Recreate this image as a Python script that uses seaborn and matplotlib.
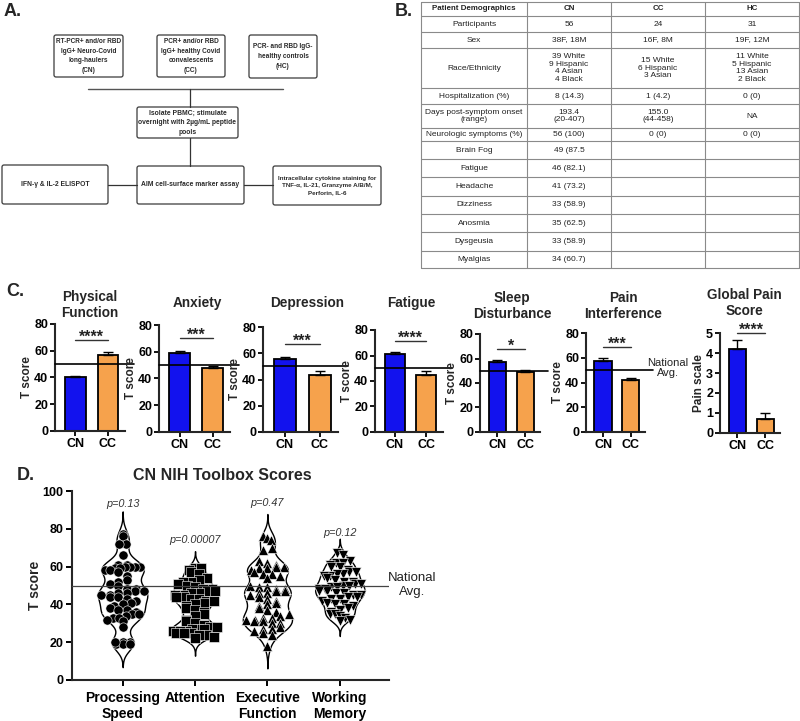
import warnings
warnings.filterwarnings("ignore")
import numpy as np
import pandas as pd
import matplotlib
matplotlib.use("Agg")
import matplotlib.pyplot as plt
from matplotlib.patches import FancyBboxPatch
import seaborn as sns

# ---------------- data ----------------
# Panel A flowchart texts
flow_top = ["RT-PCR+ and/or RBD\nIgG+ Neuro-Covid\nlong-haulers\n(CN)",
            "PCR+ and/or RBD\nIgG+ healthy Covid\nconvalescents\n(CC)",
            "PCR- and RBD IgG-\nhealthy controls\n(HC)"]
flow_mid = "Isolate PBMC; stimulate\novernight with 2µg/mL peptide\npools"
flow_bottom = ["IFN-γ & IL-2 ELISPOT",
               "AIM cell-surface marker assay",
               "Intracellular cytokine staining for\nTNF-α, IL-21, Granzyme A/B/M,\nPerforin, IL-6"]

# Panel B table
table_header = ["Patient Demographics", "CN", "CC", "HC"]
table_rows = [
    ["Participants", "56", "24", "31"],
    ["Sex", "38F, 18M", "16F, 8M", "19F, 12M"],
    ["Race/Ethnicity", "39 White\n9 Hispanic\n4 Asian\n4 Black",
     "15 White\n6 Hispanic\n3 Asian", "11 White\n5 Hispanic\n13 Asian\n2 Black"],
    ["Hospitalization (%)", "8 (14.3)", "1 (4.2)", "0 (0)"],
    ["Days post-symptom onset\n(range)", "193.4\n(20-407)", "155.0\n(44-458)", "NA"],
    ["Neurologic symptoms (%)", "56 (100)", "0 (0)", "0 (0)"],
    ["Brain Fog", "49 (87.5", "", ""],
    ["Fatigue", "46 (82.1)", "", ""],
    ["Headache", "41 (73.2)", "", ""],
    ["Dizziness", "33 (58.9)", "", ""],
    ["Anosmia", "35 (62.5)", "", ""],
    ["Dysgeusia", "33 (58.9)", "", ""],
    ["Myalgias", "34 (60.7)", "", ""],
]

# Panel C PROMIS bars
promis_titles = ["Physical\nFunction", "Anxiety", "Depression", "Fatigue",
                 "Sleep\nDisturbance", "Pain\nInterference", "Global Pain\nScore"]
groups = ["CN", "CC"]
cn_mean = [40.0, 59.3, 55.3, 61.2, 57.4, 57.5, 4.2]
cn_sem = [1.4, 1.5, 1.6, 1.8, 1.3, 2.1, 0.46]
cc_mean = [56.5, 47.5, 43.7, 45.0, 48.6, 42.0, 0.7]
cc_sem = [2.3, 2.0, 2.5, 3.2, 2.4, 1.4, 0.3]
stars = ["****", "***", "***", "****", "*", "***", "****"]

# Panel D NIH toolbox scores
tests = ["Processing\nSpeed", "Attention", "Executive\nFunction", "Working\nMemory"]
processing = [77, 76, 72, 72, 66,
              61, 61, 60, 60, 60, 60, 59, 59, 58, 58, 57,
              55, 53, 52, 51, 50,
              48, 48, 47, 47, 46, 46, 45, 45, 44, 44, 43,
              42, 41, 40, 39, 38, 37, 37, 36, 35, 35, 34, 33, 33, 32, 31,
              28, 20, 20, 19, 19, 20, 19]
attention = [59, 59, 58, 57, 56,
             54, 53, 52, 52, 51, 50,
             49, 48, 48, 47, 47, 46, 46, 45, 45, 44, 44, 43, 43, 42, 42,
             41, 40, 39, 38, 37, 36, 35, 34,
             32, 31, 30, 29,
             28, 28, 27, 27, 27, 26, 26, 26, 25, 25, 25, 24, 24, 23, 22]
executive = [76, 75, 74, 70, 69,
             63, 62, 61, 60, 60, 59, 59, 58,
             57, 56, 56, 55, 54,
             50, 49, 49, 48, 48, 47, 47, 46, 46, 45,
             44, 43, 42, 41, 40,
             39, 38, 37, 36,
             35, 34, 33, 33, 32, 32, 31, 31, 30, 30,
             28, 27, 27, 26, 25, 24, 18]
working = [67, 66, 63, 62, 62, 61, 60, 60,
           58, 57, 57, 56, 56, 55, 55, 54,
           53, 52, 52, 51, 51, 50, 50, 49, 49, 48, 48, 47,
           47, 46, 46, 45, 45, 44, 44, 43, 43, 42,
           41, 40, 40, 39,
           38, 37, 36, 35, 35, 34, 33, 32, 31]
p_values = ["p=0.13", "p=0.00007", "p=0.47", "p=0.12"]
national_avg = 50

# ---------------- style ----------------
sns.set_theme(style="ticks")
plt.rcParams['font.family'] = ['Liberation Sans', 'DejaVu Sans']
plt.rcParams['axes.linewidth'] = 1.5

W, H = 800, 721
fig = plt.figure(figsize=(8, 7.21), dpi=100)
fig.patch.set_facecolor("white")


def fx(px):
    return px / W


def fy(py):
    return 1 - py / H


def axes_px(l, r, t, b):
    return fig.add_axes([fx(l), fy(b), (r - l) / W, (b - t) / H])


# ---------------- Panel A ----------------
axA = axes_px(0, 400, 0, 275)
axA.set_xlim(0, 400)
axA.set_ylim(275, 0)
axA.axis("off")


def box(ax, x0, x1, y0, y1, txt, fs=4.8):
    ax.add_patch(FancyBboxPatch((x0, y0), x1 - x0, y1 - y0,
                                boxstyle="round,pad=0,rounding_size=2",
                                fc="white", ec="#3a3a3a", lw=0.9))
    ax.text((x0 + x1) / 2, (y0 + y1) / 2, txt, ha="center", va="center",
            fontsize=fs, fontweight="bold", color="#2a2a2a", linespacing=1.5)


top_boxes = [(54, 123, 35, 77), (157, 225, 35, 77), (249, 317, 35, 78)]
for (x0, x1, y0, y1), t in zip(top_boxes, flow_top):
    box(axA, x0, x1, y0, y1, t, 4.7)
axA.plot([88, 283], [89, 89], color="#555", lw=1.0)
axA.plot([190, 190], [89, 107], color="#333", lw=0.9)
box(axA, 137, 238, 107, 138, flow_mid, 4.9)
axA.plot([190, 190], [138, 166], color="#333", lw=0.9)
bot_boxes = [(2, 108, 165, 204), (137, 244, 166, 204), (273, 381, 166, 205)]
for (x0, x1, y0, y1), t, fs in zip(bot_boxes, flow_bottom, [4.9, 4.9, 4.5]):
    box(axA, x0, x1, y0, y1, t, fs)
axA.plot([108, 137], [185, 185], color="#333", lw=0.9)
axA.plot([244, 273], [185, 185], color="#333", lw=0.9)

# ---------------- Panel B ----------------
axB = axes_px(400, 800, 0, 275)
axB.set_xlim(400, 800)
axB.set_ylim(275, 0)
axB.axis("off")
col_edges = [421, 527, 611, 705, 799]
row_edges = [2, 16, 32, 48, 88, 104, 128, 141, 159, 177, 196, 214, 232, 251, 268]
for xe in col_edges:
    axB.plot([xe, xe], [row_edges[0], row_edges[-1]], color="#8a8a8a", lw=0.8)
for ye in row_edges:
    axB.plot([col_edges[0], col_edges[-1]], [ye, ye], color="#8a8a8a", lw=0.8)
all_rows = [table_header] + table_rows
for i, row in enumerate(all_rows):
    yc = (row_edges[i] + row_edges[i + 1]) / 2
    for j, txt in enumerate(row):
        xc = (col_edges[j] + col_edges[j + 1]) / 2
        axB.text(xc, yc, txt, ha="center", va="center",
                 fontsize=5.7 if i == 0 else 6.0,
                 fontweight="bold" if i == 0 else "normal", color="#222",
                 linespacing=1.12)

# ---------------- Panel C ----------------
c_layout = [(55, 125, 324, 431), (159, 230, 325, 432), (263, 338, 327, 432),
            (375, 443, 330, 432), (480, 540, 334, 432), (586, 645, 333, 432),
            (720, 780, 333, 433)]
title_x = [90, 197, 307, 411, 512, 623, 744]
title_y = [305, 303, 303, 303, 306, 306, 303]
sig_y = [68, 70, 67, 71.5, 68, 69, 5.0]
blue, orange = "#1212EE", "#F6A24C"
for k in range(7):
    l, r, t, b = c_layout[k]
    ax = axes_px(l, r, t, b)
    means = [cn_mean[k], cc_mean[k]]
    sems = [cn_sem[k], cc_sem[k]]
    sns.barplot(x=groups, y=means, hue=groups, palette=[blue, orange],
                legend=False, edgecolor="black", linewidth=1.3, width=0.63,
                errorbar=None, saturation=1, ax=ax, zorder=2)
    ax.errorbar([0, 1], means, yerr=[[0, 0], sems], fmt="none", ecolor="black",
                elinewidth=1.0, capsize=3.5, capthick=1.0, zorder=3)
    ax.set_xlim(-0.62, 1.52)
    if k < 6:
        ax.set_ylim(0, 80)
        ax.set_yticks([0, 20, 40, 60, 80])
        ax.set_ylabel("T score", fontsize=8.5, fontweight="bold", labelpad=1)
        ax.axhline(national_avg, xmin=0, xmax=1.13, color="black", lw=1.2,
                   clip_on=False, zorder=4)
    else:
        ax.set_ylim(0, 5)
        ax.set_yticks([0, 1, 2, 3, 4, 5])
        ax.set_ylabel("Pain scale", fontsize=8.5, fontweight="bold", labelpad=1)
    ax.plot([0, 1], [sig_y[k], sig_y[k]], color="#333", lw=1.0, clip_on=False)
    ax.annotate(stars[k], xy=(0.5, sig_y[k]), xytext=(0, -3.5),
                textcoords="offset points", ha="center", va="bottom",
                fontsize=11.5, fontweight="bold", color="#222",
                annotation_clip=False)
    sns.despine(ax=ax)
    ax.tick_params(axis="both", length=3.5, width=1.3, labelsize=9, pad=1.5, colors="black")
    for lbl in ax.get_yticklabels() + ax.get_xticklabels():
        lbl.set_fontweight("bold")
    ax.set_xlabel("")
    ax.set_facecolor("white")
    fig.text(fx(title_x[k]), fy(title_y[k]), promis_titles[k], ha="center",
             va="center", fontsize=9.8, fontweight="bold", linespacing=1.1)
fig.text(fx(668), fy(368), "National\nAvg.", ha="center", va="center",
         fontsize=8, color="#222", linespacing=1.1)

# ---------------- Panel D ----------------
axD = axes_px(72, 389, 491, 680)
series = [processing, attention, executive, working]
df = pd.DataFrame({
    "test": np.repeat(tests, [len(s) for s in series]),
    "score": sum(series, []),
})
VW = 0.68
BWA = 0.6
vkw = dict(data=df, x="test", y="score", order=tests, density_norm="width",
           width=VW, bw_adjust=BWA, cut=3, ax=axD)
sns.violinplot(**vkw, color="white", linecolor="black", linewidth=1.0,
               inner=None, saturation=1)


def spread_offsets(vals, bin_w=3.2, step=0.12):
    """Horizontal scatter offsets confined to the violin's density profile."""
    v = np.asarray(vals, float)
    bw = 1.06 * v.std(ddof=1) * len(v) ** (-0.2) * BWA
    grid = np.linspace(v.min() - 3 * bw, v.max() + 3 * bw, 400)
    dens = np.exp(-0.5 * ((grid[:, None] - v[None, :]) / bw) ** 2).sum(1)
    dmax = dens.max()
    bins = np.floor(v / bin_w)
    off = np.zeros(len(v))
    for n_b, b in enumerate(np.unique(bins)):
        idx = np.where(bins == b)[0]
        idx = idx[np.argsort(v[idx])]
        n = len(idx)
        d = np.interp(v[idx].mean(), grid, dens) / dmax
        half = max(VW / 2 * d - 0.04, 0.03)
        s = min(step, 2 * half / (n - 1)) if n > 1 else 0.0
        pos = (np.arange(n) - (n - 1) / 2) * s
        if n_b % 2 and n > 1:
            pos = pos[::-1]
        off[idx] = pos
    return off


markers = ["o", "s", "^", "v"]
msizes = [44, 48, 50, 50]
for i, (vals, m, ms) in enumerate(zip(series, markers, msizes)):
    xpos = i + spread_offsets(vals)
    sns.scatterplot(x=xpos, y=vals, marker=m, s=ms, color="black",
                    edgecolor="white", linewidth=0.4, ax=axD, zorder=3,
                    legend=False)
sns.violinplot(**vkw, fill=False, color="white", linewidth=0, inner="quart",
               inner_kws=dict(color="white", linewidth=1.0))
axD.axhline(national_avg, color="#444", lw=0.9, zorder=5)
axD.set_xlim(-0.7, 3.68)
axD.set_ylim(0, 100)
axD.set_yticks([0, 20, 40, 60, 80, 100])
axD.set_xticks(range(len(tests)))
axD.set_xticklabels(tests)
p_y = [93, 74, 93.5, 78]
for i, (pv, yy) in enumerate(zip(p_values, p_y)):
    axD.text(i, yy, pv, ha="center", va="center", fontsize=7.8, style="italic",
             color="#333")
sns.despine(ax=axD)
axD.tick_params(axis="x", length=4, width=1.4, labelsize=10, pad=4, colors="black")
axD.tick_params(axis="y", length=4, width=1.4, labelsize=9, pad=2, colors="black")
for lbl in axD.get_yticklabels() + axD.get_xticklabels():
    lbl.set_fontweight("bold")
axD.set_xlabel("")
axD.set_ylabel("T score", fontsize=10, fontweight="bold")
axD.yaxis.set_label_coords(-0.095, 0.5)
axD.set_facecolor("white")
fig.text(fx(222), fy(475), "CN NIH Toolbox Scores", ha="center", va="center",
         fontsize=11.5, fontweight="bold")
fig.text(fx(412), fy(585), "National\nAvg.", ha="center", va="center",
         fontsize=9.5, color="#222", linespacing=1.2)

# panel letters
for lab, x, y in [("A.", 4, 11), ("B.", 395, 11), ("C.", 6, 291), ("D.", 17, 475)]:
    fig.text(fx(x), fy(y), lab, ha="left", va="center", fontsize=13, fontweight="bold")

fig.savefig("out.png", dpi=100, facecolor="white")
